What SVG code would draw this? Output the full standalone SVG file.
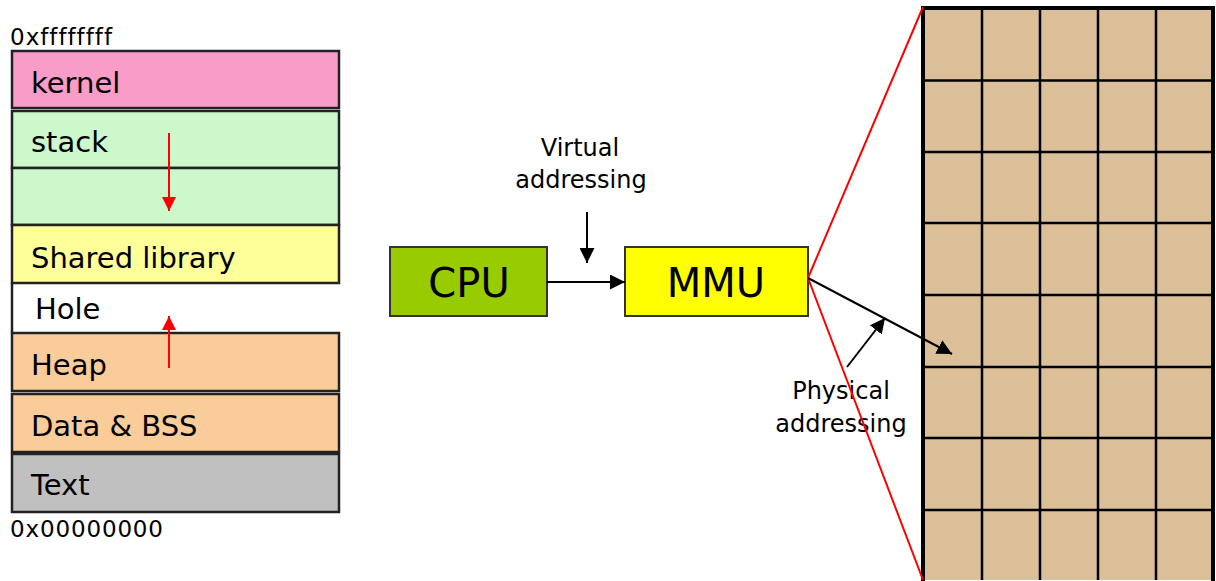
<svg xmlns="http://www.w3.org/2000/svg" width="1216" height="581" viewBox="0 0 1216 581">
<style>
.lbl{font-family:"DejaVu Sans","Liberation Sans",sans-serif;font-size:29px;fill:#000}
.small{font-family:"DejaVu Sans","Liberation Sans",sans-serif;font-size:24px;fill:#000}
.addr{font-family:"DejaVu Sans","Liberation Sans",sans-serif;font-size:23px;fill:#000;font-variant-ligatures:none}
.big{font-family:"DejaVu Sans","Liberation Sans",sans-serif;font-size:40px;fill:#000}
.seg{stroke:#222;stroke-width:2.5}
.cell{fill:none;stroke:#000;stroke-width:2.5}
</style>
<defs>
<marker id="ahb" viewBox="0 0 10 10" refX="10" refY="5" markerWidth="15" markerHeight="15" markerUnits="userSpaceOnUse" orient="auto"><path d="M0,0 L10,5 L0,10 z" fill="#000"/></marker>
<marker id="ahr" viewBox="0 0 10 10" refX="10" refY="5" markerWidth="14" markerHeight="14" markerUnits="userSpaceOnUse" orient="auto"><path d="M0,0 L10,5 L0,10 z" fill="#f00"/></marker>
</defs>
<rect width="1216" height="581" fill="#fff"/>

<g id="memory-layout">
<text class="addr" x="10" y="45" textLength="102" lengthAdjust="spacing">0xffffffff</text>
<g id="kernel"><rect class="seg" x="12" y="51" width="327" height="57" fill="#F99CC8"/><text class="lbl" x="31" y="93">kernel</text></g>
<g id="stack"><rect class="seg" x="12" y="111" width="327" height="57" fill="#CCF8CC"/><text class="lbl" x="31" y="152">stack</text></g>
<g id="stack-free"><rect class="seg" x="12" y="168" width="327" height="57" fill="#CCF8CC"/></g>
<g id="shared-library"><rect class="seg" x="12" y="225" width="327" height="58" fill="#FFFF99"/><text class="lbl" x="31" y="268">Shared library</text></g>
<g id="hole"><line class="seg" x1="12" y1="283" x2="12" y2="333"/><text class="lbl" x="35" y="319">Hole</text></g>
<g id="heap"><rect class="seg" x="12" y="333" width="327" height="58" fill="#FACC99"/><text class="lbl" x="31" y="375">Heap</text></g>
<g id="data-bss"><rect class="seg" x="12" y="394" width="327" height="58" fill="#FACC99"/><text class="lbl" x="31" y="436">Data &amp; BSS</text></g>
<g id="text-seg"><rect class="seg" x="12" y="454" width="327" height="58" fill="#C0C0C0"/><text class="lbl" x="31" y="495">Text</text></g>
<text class="addr" x="10" y="537" textLength="153" lengthAdjust="spacing">0x00000000</text>
</g>

<g id="cpu"><rect x="390" y="247" width="157" height="69" fill="#99CC00" stroke="#333" stroke-width="2"/><text class="big" x="469" y="297" text-anchor="middle">CPU</text></g>
<g id="mmu"><rect x="625" y="247" width="183" height="69" fill="#FFFF00" stroke="#333" stroke-width="2"/><text class="big" x="716" y="297" text-anchor="middle">MMU</text></g>

<g id="physical-memory">
<rect x="923" y="7" width="290" height="573" fill="#DABF99"/>
<line class="cell" x1="982" y1="7" x2="982" y2="580"/>
<line class="cell" x1="1040" y1="7" x2="1040" y2="580"/>
<line class="cell" x1="1098" y1="7" x2="1098" y2="580"/>
<line class="cell" x1="1156" y1="7" x2="1156" y2="580"/>
<line class="cell" x1="923" y1="80.5" x2="1213" y2="80.5"/>
<line class="cell" x1="923" y1="152" x2="1213" y2="152"/>
<line class="cell" x1="923" y1="223" x2="1213" y2="223"/>
<line class="cell" x1="923" y1="295" x2="1213" y2="295"/>
<line class="cell" x1="923" y1="367" x2="1213" y2="367"/>
<line class="cell" x1="923" y1="438" x2="1213" y2="438"/>
<line class="cell" x1="923" y1="510" x2="1213" y2="510"/>
<rect x="923" y="8" width="290" height="575" fill="none" stroke="#000" stroke-width="4"/>
</g>

<g id="labels">
<text class="small" x="580" y="156" text-anchor="middle">Virtual</text>
<text class="small" x="581" y="188" text-anchor="middle">addressing</text>
<text class="small" x="841" y="399" text-anchor="middle">Physical</text>
<text class="small" x="841" y="432" text-anchor="middle">addressing</text>
</g>

<g id="connectors">
<line x1="169" y1="133" x2="169" y2="211" stroke="#f00" stroke-width="2" marker-end="url(#ahr)"/>
<line x1="169" y1="368" x2="169" y2="316" stroke="#f00" stroke-width="2" marker-end="url(#ahr)"/>
<line x1="587" y1="212" x2="587" y2="263" stroke="#000" stroke-width="2" marker-end="url(#ahb)"/>
<line x1="547" y1="282" x2="625" y2="282" stroke="#000" stroke-width="2" marker-end="url(#ahb)"/>
<line x1="808" y1="278" x2="923" y2="7" stroke="#f00" stroke-width="2"/>
<line x1="808" y1="278" x2="923" y2="580" stroke="#f00" stroke-width="2"/>
<line x1="808" y1="278" x2="952" y2="354" stroke="#000" stroke-width="2" marker-end="url(#ahb)"/>
<line x1="847" y1="367" x2="885" y2="318" stroke="#000" stroke-width="2" marker-end="url(#ahb)"/>
</g>
</svg>
